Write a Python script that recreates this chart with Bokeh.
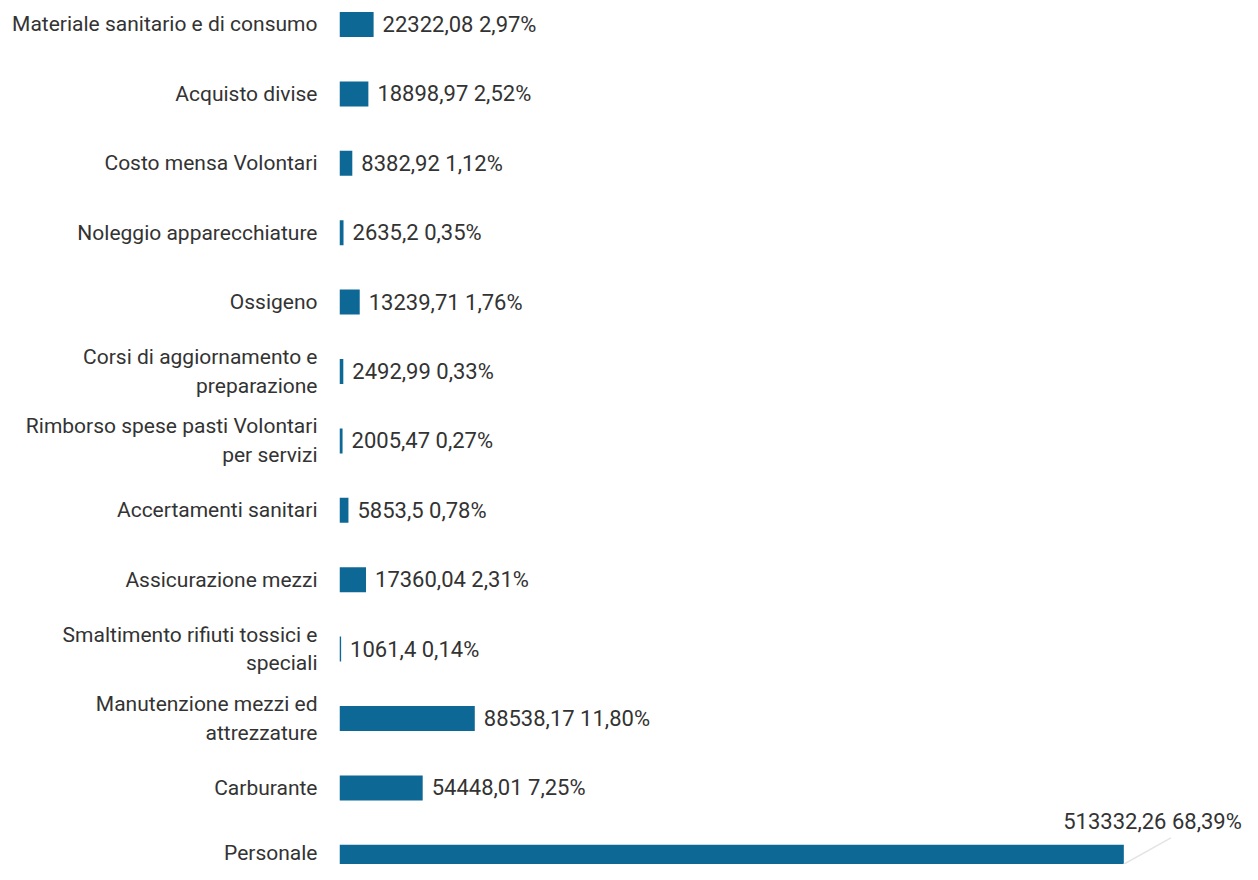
from bokeh.plotting import figure
from bokeh.models import Range1d, FixedTicker, ColumnDataSource
from bokeh.embed import file_html
from bokeh.resources import INLINE
from bokeh.core.properties import value

categories = [
    "Materiale sanitario e di consumo",
    "Acquisto divise",
    "Costo mensa Volontari",
    "Noleggio apparecchiature",
    "Ossigeno",
    "Corsi di aggiornamento e preparazione",
    "Rimborso spese pasti Volontari per servizi",
    "Accertamenti sanitari",
    "Assicurazione mezzi",
    "Smaltimento rifiuti tossici e speciali",
    "Manutenzione mezzi ed attrezzature",
    "Carburante",
    "Personale",
]
wrapped = {
    "Corsi di aggiornamento e preparazione": "Corsi di aggiornamento e\npreparazione",
    "Rimborso spese pasti Volontari per servizi": "Rimborso spese pasti Volontari\nper servizi",
    "Smaltimento rifiuti tossici e speciali": "Smaltimento rifiuti tossici e\nspeciali",
    "Manutenzione mezzi ed attrezzature": "Manutenzione mezzi ed\nattrezzature",
}
values = [22322.08, 18898.97, 8382.92, 2635.2, 13239.71, 2492.99, 2005.47,
          5853.5, 17360.04, 1061.4, 88538.17, 54448.01, 513332.26]
percents = ["2,97%", "2,52%", "1,12%", "0,35%", "1,76%", "0,33%", "0,27%",
            "0,78%", "2,31%", "0,14%", "11,80%", "7,25%", "68,39%"]
value_labels = ["22322,08", "18898,97", "8382,92", "2635,2", "13239,71", "2492,99",
                "2005,47", "5853,5", "17360,04", "1061,4", "88538,17", "54448,01",
                "513332,26"]

FONT = "Roboto"
BAR = "#0E6896"
TXT = "#333333"

pos = list(range(len(categories)))
labels = [f"{v} {p}" for v, p in zip(value_labels, percents)]

p = figure(width=1242, height=864, output_backend="svg", toolbar_location=None,
           x_range=Range1d(0, 591000), y_range=Range1d(12.104, -0.3458),
           x_axis_location=None, min_border_left=339, min_border_right=0,
           min_border_top=0, min_border_bottom=0, outline_line_color=None)
p.grid.visible = False

src = ColumnDataSource(dict(y=pos, v=values, lab=labels))
p.hbar(y="y", left=0, right="v", height=0.36, source=src, color=BAR, line_color=None)

small = ColumnDataSource(dict(y=pos[:-1], v=values[:-1], lab=labels[:-1]))
p.text(x="v", y="y", text="lab", source=small, x_offset=9, text_baseline="middle",
       text_font=value(FONT), text_font_size="22px", text_color=TXT)
big = ColumnDataSource(dict(y=pos[-1:], v=values[-1:], lab=labels[-1:]))
p.text(x="v", y="y", text="lab", source=big, x_offset=118, y_offset=-36,
       text_align="right", text_baseline="middle", text_font=value(FONT),
       text_font_size="22px", text_color=TXT)
p.segment(x0=[values[-1]], y0=[pos[-1] + 0.1], x1=[values[-1] * 1.06], y1=[pos[-1] - 0.28],
          line_color="#E4E4E4", line_width=1.5)

ax = p.yaxis[0]
ax.ticker = FixedTicker(ticks=pos)
ax.major_label_overrides = {i: wrapped.get(c, c) for i, c in enumerate(categories)}
ax.major_tick_out = 0
ax.major_tick_in = 0
ax.minor_tick_out = 0
ax.minor_tick_in = 0
ax.axis_line_color = None
ax.major_label_standoff = 22
ax.major_label_text_font = FONT
ax.major_label_text_font_size = "21px"
ax.major_label_text_color = TXT

open("out.html", "w").write(file_html(p, INLINE))
